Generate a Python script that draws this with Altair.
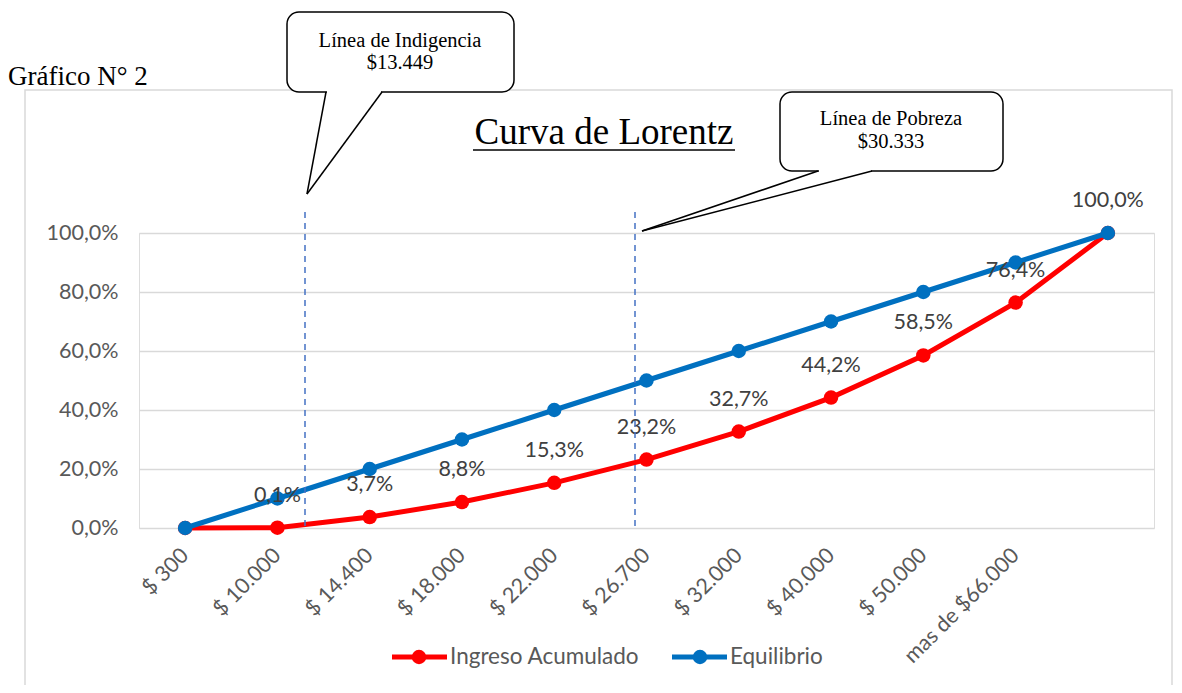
import altair as alt
import pandas as pd

# ---- data ----
categories = ["$ 300", "$ 10.000", "$ 14.400", "$ 18.000", "$ 22.000", "$ 26.700",
              "$ 32.000", "$ 40.000", "$ 50.000", "mas de $66.000", " "]
ingreso = [0.0, 0.1, 3.7, 8.8, 15.3, 23.2, 32.7, 44.2, 58.5, 76.4, 100.0]
equilibrio = [0, 10, 20, 30, 40, 50, 60, 70, 80, 90, 100]

df_red = pd.DataFrame({"cat": categories, "val": [v / 100 for v in ingreso],
                       "lbl": [f"{v:.1f}%".replace(".", ",") for v in ingreso]})
df_blue = pd.DataFrame({"cat": categories, "val": [v / 100 for v in equilibrio]})
df_lbl = df_red.iloc[1:].copy()

SANS = "Lato"
SERIF = "Liberation Serif"
RED = "#FF0000"
BLUE = "#0070C0"
GRAY = "#595959"

W, H = 1015, 295

xenc = alt.X("cat:N", sort=categories,
             scale=alt.Scale(type="point", padding=0.5),
             axis=alt.Axis(title=None, labelAngle=-45, labelAlign="right", labelBaseline="middle",
                           labelPadding=24, ticks=False, domain=False, grid=False,
                           labelFont=SANS, labelFontSize=21.5, labelColor=GRAY,
                           labelOverlap=False, labelBound=False))
yenc = alt.Y("val:Q", scale=alt.Scale(domain=[0, 1]),
             axis=alt.Axis(title=None, values=[0, 0.2, 0.4, 0.6, 0.8, 1.0],
                           labelExpr="replace(format(datum.value, '.1%'), '.', ',')",
                           ticks=False, domain=False, grid=True, gridColor="#D9D9D9",
                           gridWidth=1.5, labelPadding=21, labelFont=SANS,
                           labelFontSize=21.5, labelColor=GRAY))

red_line = alt.Chart(df_red).mark_line(color=RED, strokeWidth=5).encode(x=xenc, y=yenc)
red_pts = alt.Chart(df_red).mark_point(color=RED, filled=True, size=210, opacity=1).encode(x=xenc, y=yenc)
blue_line = alt.Chart(df_blue).mark_line(color=BLUE, strokeWidth=5).encode(x=xenc, y=yenc)
blue_pts = alt.Chart(df_blue).mark_point(color=BLUE, filled=True, size=210, opacity=1).encode(x=xenc, y=yenc)
labels = alt.Chart(df_lbl).mark_text(dy=-32, font=SANS, fontSize=21.5, color="#404040").encode(
    x=xenc, y=yenc, text="lbl:N")

one = pd.DataFrame({"a": [0]})


def rule(x1, y1, x2, y2, color="black", width=1.5, dash=None):
    kw = dict(color=color, strokeWidth=width)
    if dash:
        kw["strokeDash"] = dash
    return alt.Chart(one).mark_rule(**kw).encode(
        x=alt.value(x1), y=alt.value(y1), x2=alt.value(x2), y2=alt.value(y2))


def text(t, x, y, size, font=SERIF, align="center", color="black"):
    return alt.Chart(one).mark_text(text=t, font=font, fontSize=size, align=align,
                                    baseline="middle", color=color).encode(
        x=alt.value(x), y=alt.value(y))


def box(x1, y1, x2, y2):
    return alt.Chart(one).mark_rect(cornerRadius=12, fill="white", stroke="black",
                                    strokeWidth=1.5).encode(
        x=alt.value(x1), y=alt.value(y1), x2=alt.value(x2), y2=alt.value(y2))


frame = alt.Chart(one).mark_rect(fill=None, stroke="#D9D9D9", strokeWidth=1.5).encode(
    x=alt.value(-114), y=alt.value(-143), x2=alt.value(1033), y2=alt.value(470))

deco = [
    frame,
    text("Gráfico N° 2", -131, -156, 27, align="left"),
    text("Curva de Lorentz", 465, -100, 37),
    rule(334, -83, 596, -83, width=1.5),
    # dashed reference lines
    rule(166, -21, 166, 295, color="#4472C4", width=1.5, dash=[6, 5]),
    rule(496, -21, 496, 295, color="#4472C4", width=1.5, dash=[6, 5]),
    # callout 1
    box(148, -221, 375, -141),
    rule(188, -141, 242, -141, color="white", width=3),
    rule(187, -141, 168, -39),
    rule(243, -141, 168, -39),
    text("Línea de Indigencia", 261, -192, 20.5),
    text("$13.449", 261, -170, 20.5),
    # callout 2
    box(641, -141, 864, -62),
    rule(680, -62, 732, -62, color="white", width=3),
    rule(679, -62, 503, -2),
    rule(733, -62, 503, -2),
    text("Línea de Pobreza", 752, -114, 20.5),
    text("$30.333", 752, -91, 20.5),
]

# legend (manual)
leg_y = 424
legend = [
    rule(253, leg_y, 308, leg_y, color=RED, width=5),
    alt.Chart(one).mark_point(color=RED, filled=True, size=210, opacity=1).encode(
        x=alt.value(280), y=alt.value(leg_y)),
    text("Ingreso Acumulado", 311, leg_y, 22.5, font=SANS, align="left", color=GRAY),
    rule(533, leg_y, 588, leg_y, color=BLUE, width=5),
    alt.Chart(one).mark_point(color=BLUE, filled=True, size=210, opacity=1).encode(
        x=alt.value(561), y=alt.value(leg_y)),
    text("Equilibrio", 591, leg_y, 22.5, font=SANS, align="left", color=GRAY),
]

chart = alt.layer(red_line, red_pts, blue_line, blue_pts, labels, *deco, *legend).properties(
    width=W, height=H,
    autosize=alt.AutoSizeParams(type="none"),
    padding={"left": 131, "top": 225, "right": 20, "bottom": 157},
).configure_view(stroke=None).configure(background="white")

chart.save("out.html", embed_options={"renderer": "svg", "actions": False})
